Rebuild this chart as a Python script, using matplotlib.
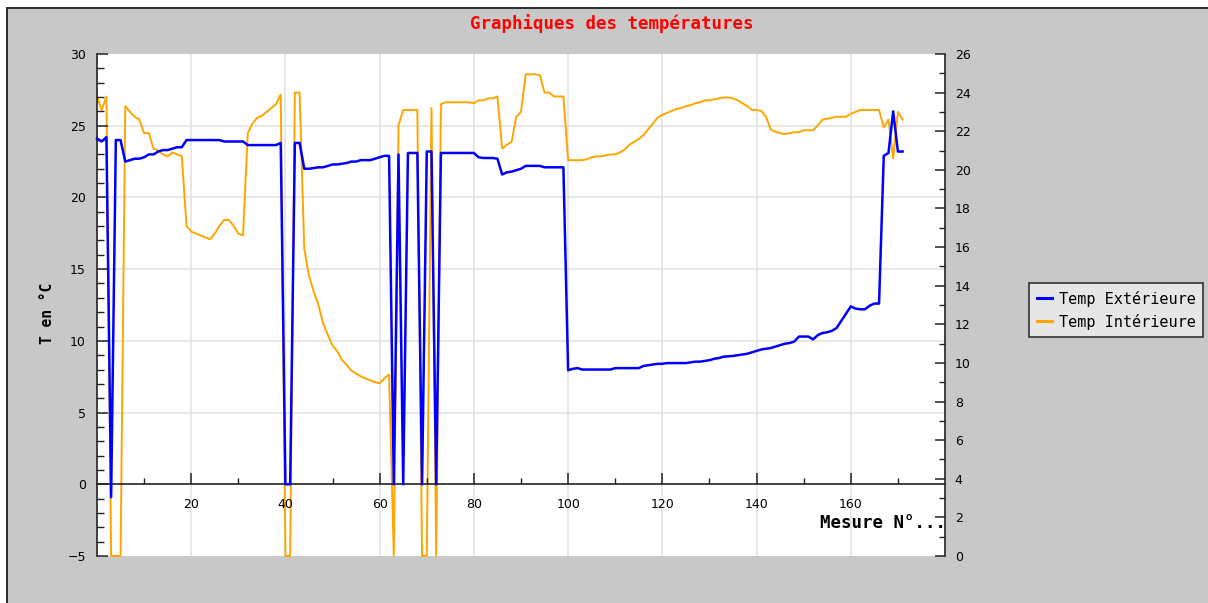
import matplotlib
matplotlib.use("Agg")
import matplotlib.pyplot as plt
from matplotlib.patches import Rectangle
from matplotlib.ticker import MultipleLocator, FixedLocator
from matplotlib.transforms import blended_transform_factory

# Outdoor temperature (left axis, °C)
temp_ext = [
    24.1, 23.9, 24.2, -0.9, 24.0, 24.0, 22.5, 22.6, 22.7, 22.7,
    22.8, 23.0, 23.0, 23.2, 23.3, 23.3, 23.4, 23.5, 23.5, 24.0,
    24.0, 24.0, 24.0, 24.0, 24.0, 24.0, 24.0, 23.9, 23.9, 23.9,
    23.9, 23.9, 23.65, 23.65, 23.65, 23.65, 23.65, 23.65, 23.65, 23.8,
    0.0, 0.0, 23.8, 23.8, 22.0, 22.0, 22.05, 22.1, 22.1, 22.2,
    22.3, 22.3, 22.35, 22.4, 22.5, 22.5, 22.6, 22.6, 22.6, 22.7,
    22.8, 22.9, 22.9, 0.0, 23.0, 0.0, 23.1, 23.1, 23.1, 0.0,
    23.2, 23.2, 0.0, 23.1, 23.1, 23.1, 23.1, 23.1, 23.1, 23.1,
    23.1, 22.8, 22.75, 22.75, 22.75, 22.7, 21.6, 21.75, 21.8, 21.9,
    22.0, 22.2, 22.2, 22.2, 22.2, 22.1, 22.1, 22.1, 22.1, 22.1,
    7.95, 8.05, 8.1, 8.0, 8.0, 8.0, 8.0, 8.0, 8.0, 8.0,
    8.1, 8.1, 8.1, 8.1, 8.1, 8.1, 8.25, 8.3, 8.35, 8.4,
    8.4, 8.45, 8.45, 8.45, 8.45, 8.45, 8.5, 8.55, 8.55, 8.6,
    8.65, 8.75, 8.8, 8.9, 8.92, 8.95, 9.0, 9.05, 9.1, 9.2,
    9.3, 9.4, 9.45, 9.5, 9.6, 9.7, 9.8, 9.85, 9.95, 10.3,
    10.3, 10.3, 10.1, 10.4, 10.55, 10.6, 10.7, 10.9, 11.4, 11.9,
    12.4, 12.25, 12.2, 12.2, 12.45, 12.6, 12.6, 22.9, 23.1, 26.0,
    23.2, 23.2,
]

# Indoor temperature (right axis, °C)
temp_int = [
    23.8, 23.1, 23.8, 0.0, 0.0, 0.0, 23.3, 23.0, 22.75, 22.6,
    21.9, 21.9, 21.1, 21.0, 20.8, 20.7, 20.9, 20.8, 20.7, 17.1,
    16.8, 16.7, 16.6, 16.5, 16.4, 16.7, 17.1, 17.4, 17.4, 17.1,
    16.7, 16.6, 21.9, 22.4, 22.7, 22.8, 23.0, 23.2, 23.4, 23.9,
    0.0, 0.0, 24.0, 24.0, 15.9, 14.5, 13.7, 13.0, 12.05, 11.45,
    10.9, 10.6, 10.15, 9.9, 9.6, 9.45, 9.3, 9.2, 9.1, 9.0,
    8.95, 9.2, 9.4, 0.0, 22.3, 23.1, 23.1, 23.1, 23.1, 0.0,
    0.0, 23.2, 0.0, 23.4, 23.5, 23.5, 23.5, 23.5, 23.5, 23.5,
    23.45, 23.6, 23.6, 23.7, 23.7, 23.8, 21.1, 21.3, 21.45, 22.75,
    23.0, 24.95, 24.95, 24.95, 24.9, 24.0, 24.0, 23.8, 23.8, 23.8,
    20.5, 20.5, 20.5, 20.5, 20.55, 20.65, 20.7, 20.7, 20.75, 20.8,
    20.8, 20.9, 21.05, 21.3, 21.45, 21.6, 21.8, 22.1, 22.4, 22.7,
    22.85, 22.95, 23.05, 23.15, 23.2, 23.3, 23.35, 23.45, 23.5, 23.6,
    23.6, 23.65, 23.7, 23.75, 23.75, 23.7, 23.6, 23.45, 23.3, 23.1,
    23.1, 23.05, 22.75, 22.1, 21.97, 21.9, 21.85, 21.9, 21.95, 21.95,
    22.05, 22.05, 22.05, 22.3, 22.6, 22.65, 22.7, 22.75, 22.75, 22.75,
    22.9, 23.0, 23.1, 23.1, 23.1, 23.1, 23.1, 22.2, 22.6, 20.6,
    23.0, 22.6,
]

series_labels = ["Temp Extérieure", "Temp Intérieure"]
x_major = [20, 40, 60, 80, 100, 120, 140, 160]
x_minor = [10, 30, 50, 70, 90, 110, 130, 150, 170]
y_grid = [5, 10, 15, 20, 25]

W, H = 1208, 603
fig = plt.figure(figsize=(W / 100, H / 100), dpi=100, facecolor="white")

# grey panel with a dark border on top/left
fig.patches.append(Rectangle((7 / W, -0.05), 1.1, 1.05 - 8 / H, transform=fig.transFigure,
                             facecolor="#c8c8c8", edgecolor="#2a2a2a", lw=1.4, zorder=-10))

ax2 = fig.add_axes([97 / W, 1 - 556 / H, (945 - 97) / W, (556 - 54) / H])
ax = fig.add_axes(ax2.get_position(), sharex=ax2)
ax.patch.set_visible(False)
ax2.set_facecolor("white")
ax.set_xlim(0, 180)
ax.set_ylim(-5, 30)
ax2.set_ylim(0, 26)

mono = "DejaVu Sans Mono"
axis_col = "#222222"
grid_col = "#e0e0e0"

# grid (drawn in the back axes so both curves stay above it)
for xv in x_major:
    ax2.axvline(xv, color=grid_col, lw=1.1, zorder=0)
grid_tr = blended_transform_factory(ax2.transAxes, ax.transData)
for yv in y_grid:
    ax2.plot([0, 1], [yv, yv], transform=grid_tr, color=grid_col, lw=1.1, zorder=0)

xs = list(range(len(temp_ext)))
l2, = ax2.plot(xs, temp_int, color="#ffa500", lw=1.4, clip_on=False, zorder=3)
l1, = ax.plot(xs, temp_ext, color="#0000ff", lw=1.8, clip_on=False, zorder=3)

# spines
for s in ("top", "right"):
    ax.spines[s].set_visible(False)
ax.spines["bottom"].set_position(("data", 0))
for s in ("bottom", "left"):
    ax.spines[s].set_color(axis_col)
    ax.spines[s].set_linewidth(1.2)
for s in ("top", "left", "bottom"):
    ax2.spines[s].set_visible(False)
ax2.spines["right"].set_color(axis_col)
ax2.spines["right"].set_linewidth(1.2)

# left axis + x axis ticks
ax.yaxis.set_major_locator(MultipleLocator(5))
ax.yaxis.set_minor_locator(MultipleLocator(1))
ax.xaxis.set_major_locator(FixedLocator(x_major))
ax.xaxis.set_minor_locator(FixedLocator(x_minor))
ax.tick_params(axis="y", which="major", direction="in", length=8, width=1.1,
               color=axis_col, pad=8, labelsize=9)
ax.tick_params(axis="y", which="minor", direction="in", length=5, width=1.0, color=axis_col)
ax.tick_params(axis="x", which="major", direction="in", length=8, width=1.1,
               color=axis_col, pad=10, labelsize=9)
ax.tick_params(axis="x", which="minor", direction="in", length=4, width=1.0, color=axis_col)

# right axis ticks
ax2.yaxis.tick_right()
ax2.yaxis.set_major_locator(MultipleLocator(2))
ax2.yaxis.set_minor_locator(MultipleLocator(1))
ax2.tick_params(axis="y", which="major", direction="in", length=7, width=1.1,
                color=axis_col, pad=7, labelsize=9)
ax2.tick_params(axis="y", which="minor", direction="in", length=4, width=1.0, color=axis_col)
ax2.tick_params(axis="x", which="both", bottom=False, labelbottom=False)

# texts
fig.text(612 / W, 1 - 24 / H, "Graphiques des températures", color="#ff0000",
         fontsize=12.5, fontweight="bold", family=mono, ha="center", va="center")
fig.text(48 / W, 1 - 313 / H, "T en °C", rotation=90, fontsize=10.5,
         fontweight="bold", family=mono, ha="center", va="center")
fig.text(946 / W, 1 - 523 / H, "Mesure N°...", fontsize=12.5, fontweight="bold",
         family=mono, ha="right", va="center")

leg = fig.legend([l1, l2], series_labels, loc="upper left",
                 bbox_to_anchor=(1029 / W, 1 - 283 / H), bbox_transform=fig.transFigure,
                 borderaxespad=0, frameon=True, fancybox=False, facecolor="#e6e6e6",
                 edgecolor="#333333", framealpha=1, prop={"family": mono, "size": 11},
                 handlelength=1.0, handletextpad=0.45, borderpad=0.5, labelspacing=0.45)
leg.get_frame().set_linewidth(1.2)
for h in leg.legend_handles:
    h.set_linewidth(2.2)

fig.savefig("out.png", dpi=100, facecolor=fig.get_facecolor())
